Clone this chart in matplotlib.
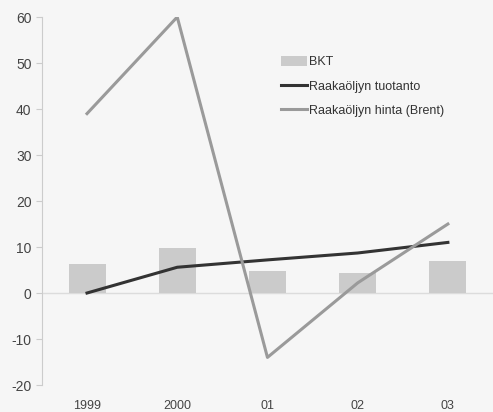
import matplotlib.pyplot as plt
import numpy as np

plt.rcParams["font.family"] = ["Liberation Sans", "DejaVu Sans"]
plt.rcParams["axes.unicode_minus"] = False

years = ["1999", "2000", "01", "02", "03"]
bkt = [6.3, 9.8, 4.8, 4.3, 7.0]
tuotanto = [0.0, 5.6, 7.2, 8.7, 11.0]
brent = [39.0, 60.0, -14.0, 2.2, 15.0]

fig = plt.figure(figsize=(4.93, 4.12), dpi=100)
fig.patch.set_facecolor("#f6f6f6")
ax = fig.add_axes([0.085, 0.0655, 0.915, 0.8932])
ax.set_facecolor("#f6f6f6")

x = np.arange(len(years))
bars = ax.bar(x, bkt, width=0.41, color="#cbcbcb", zorder=2)
ax.axhline(0, color="#dcdcdc", linewidth=1.0, zorder=1)
l1, = ax.plot(x, tuotanto, color="#333333", linewidth=2.2, zorder=3)
l2, = ax.plot(x, brent, color="#9a9a9a", linewidth=2.2, zorder=3)

ax.set_xlim(-0.5, 4.5)
ax.set_ylim(-20, 60)
ax.set_yticks(range(-20, 61, 10))
ax.set_xticks(x)
ax.set_xticklabels(years)
ax.tick_params(axis="x", length=0, pad=11, labelsize=9, colors="#444444")
ax.tick_params(axis="y", length=4, width=0.8, labelsize=10, colors="#cccccc", labelcolor="#444444")
for side in ["top", "right", "bottom"]:
    ax.spines[side].set_visible(False)
ax.spines["left"].set_color("#cccccc")

ax.legend([bars, l1, l2], ["BKT", "Raakaöljyn tuotanto", "Raakaöljyn hinta (Brent)"],
          loc="upper left", bbox_to_anchor=(0.505, 0.925), frameon=False,
          fontsize=9, handlelength=2.1, handleheight=0.9, handletextpad=0.15,
          labelspacing=0.95, labelcolor="#333333")

fig.savefig("out.png", dpi=100, facecolor=fig.get_facecolor())
